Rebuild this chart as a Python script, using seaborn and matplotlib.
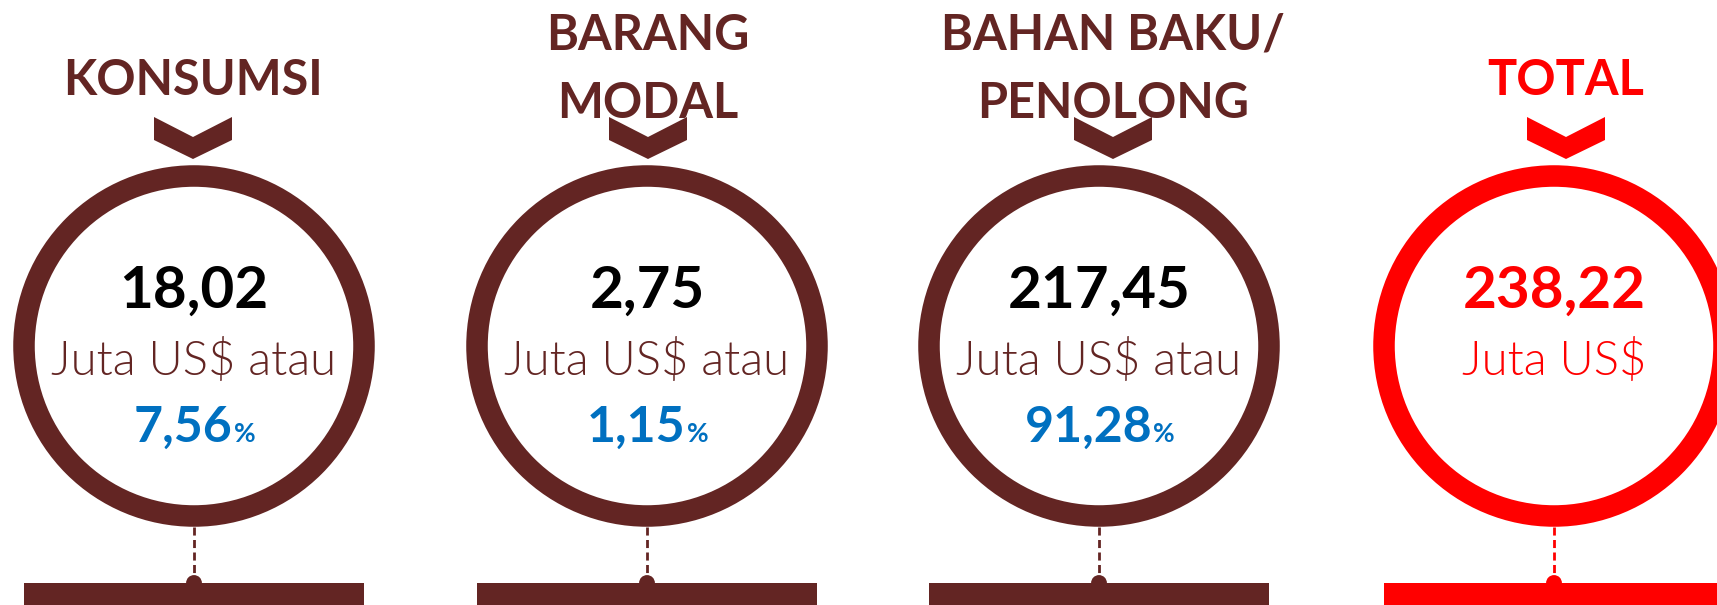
import matplotlib
matplotlib.use("Agg")
import matplotlib.pyplot as plt
from matplotlib.patches import Circle, Polygon, Rectangle
import pandas as pd
import seaborn as sns

# ─── Data ─────────────────────────────────────────────────────────────────────
categories = ["KONSUMSI", "BARANG\nMODAL", "BAHAN BAKU/\nPENOLONG", "TOTAL"]
values = [18.02, 2.75, 217.45, 238.22]          # juta US$
shares = [7.56, 1.15, 91.28, None]              # persen dari total
unit_labels = ["Juta US$ atau", "Juta US$ atau", "Juta US$ atau", "Juta US$"]

# ─── Layout / style ───────────────────────────────────────────────────────────
MAROON = "#632523"
RED = "#FF0000"
BLUE = "#0070C0"
colors = [MAROON, MAROON, MAROON, RED]
value_colors = ["black", "black", "black", RED]

circle_x = [194, 647, 1099, 1554]
label_x = [193, 648, 1113, 1566]
CY, R_RING, RING_W = 346, 170, 15.5
BAR_TOP, BAR_HALF = 583, 170

sns.set_theme(style="white")
plt.rcParams["font.family"] = ["Lato", "DejaVu Sans"]

fig = plt.figure(figsize=(17.17, 6.05), dpi=100)
ax = fig.add_axes([0, 0, 1, 1])
ax.set_xlim(0, 1717)
ax.set_ylim(605, 0)
ax.set_aspect("equal")
ax.axis("off")


def fmt(v):
    return f"{v:.2f}".replace(".", ",")


renderer = fig.canvas.get_renderer()

for i, cat in enumerate(categories):
    cx, lx, col = circle_x[i], label_x[i], colors[i]

    # title (one or two lines)
    lines = cat.split("\n")
    baselines = [95] if len(lines) == 1 else [50, 117.5]
    for line, by in zip(lines, baselines):
        ax.text(lx, by, line, ha="center", va="baseline", color=col,
                fontsize=35, fontweight="bold")

    # chevron
    ax.add_patch(Polygon([(lx - 39, 117), (lx, 137), (lx + 39, 117),
                          (lx + 39, 140), (lx, 159), (lx - 39, 140)],
                         closed=True, color=col, lw=0))

    # ring
    ax.add_patch(Circle((cx, CY), R_RING, fill=False, ec=col, lw=RING_W))

    # connector + bar
    ax.plot([cx, cx], [CY + R_RING + 11, BAR_TOP], color=col, lw=2,
            linestyle=(0, (2.9, 1.6)))
    ax.add_patch(Rectangle((cx - BAR_HALF, BAR_TOP), 2 * BAR_HALF, 40,
                           color=col, lw=0))

    # texts inside the ring
    ax.text(cx, 307.5, fmt(values[i]), ha="center", va="baseline",
            color=value_colors[i], fontsize=42, fontweight="bold")
    ax.text(cx, 375, unit_labels[i], ha="center", va="baseline",
            color=col, fontsize=34, fontweight=300)

    if shares[i] is not None:
        t_num = ax.text(0, 442, fmt(shares[i]), ha="left", va="baseline",
                        color=BLUE, fontsize=36, fontweight="bold")
        t_pct = ax.text(0, 442, "%", ha="left", va="baseline",
                        color=BLUE, fontsize=19, fontweight="bold")
        w_num = t_num.get_window_extent(renderer).width
        w_pct = t_pct.get_window_extent(renderer).width
        x0 = cx - (w_num + w_pct) / 2
        t_num.set_x(x0)
        t_pct.set_x(x0 + w_num + 1)

# connector dots
dots = pd.DataFrame({"x": circle_x, "y": [BAR_TOP] * len(circle_x),
                     "cat": categories})
sns.scatterplot(data=dots, x="x", y="y", hue="cat", palette=colors,
                s=130, linewidth=0, legend=False, ax=ax, zorder=3)
ax.set_xlim(0, 1717)
ax.set_ylim(605, 0)
ax.axis("off")

fig.savefig("out.png", dpi=100)
